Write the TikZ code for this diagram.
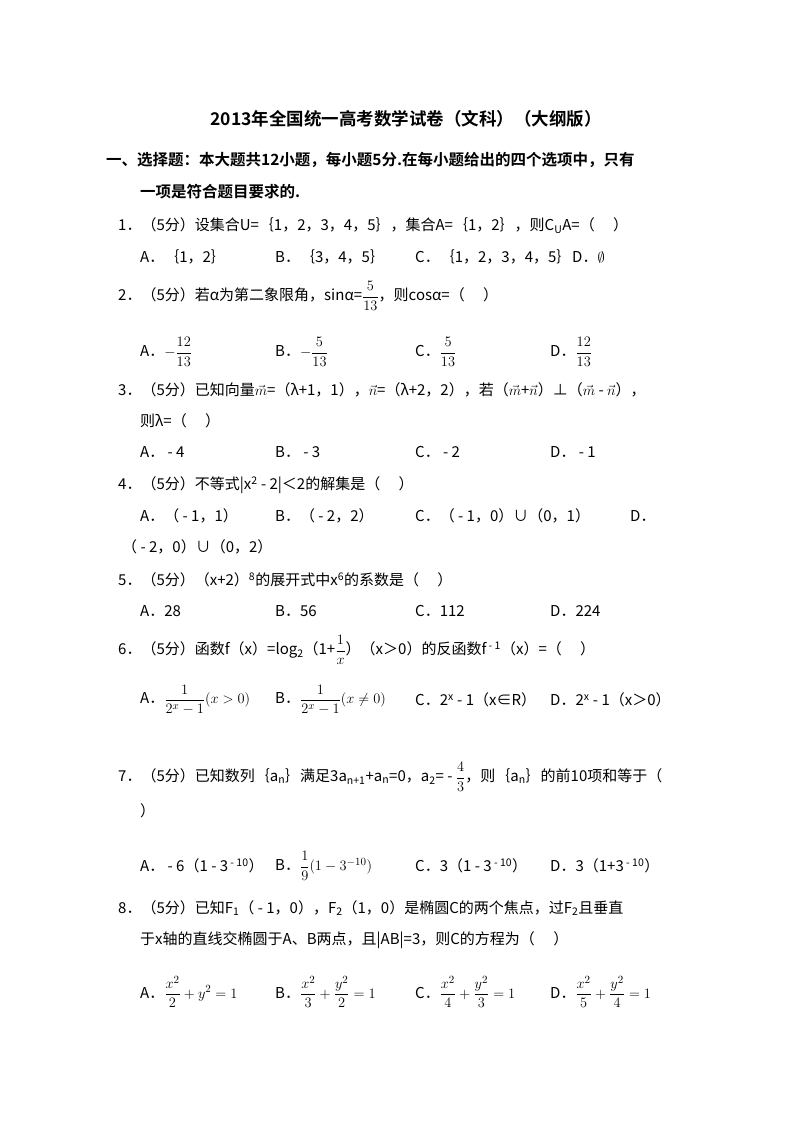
\documentclass[tikz,border=0pt]{standalone}
\usepackage{fontspec}
\usepackage{amsmath}
\setmainfont{Noto Sans CJK SC}[BoldFont={Noto Sans CJK SC Bold}]
\begin{document}
\begin{tikzpicture}[x=1pt,y=-1pt,every node/.style={anchor=west,inner sep=0pt,font=\fontsize{15}{18}\selectfont},
 t/.style={}, h/.style={font=\bfseries\fontsize{15.5}{18}\selectfont}]
\useasboundingbox[fill=white] (0,0) rectangle (800,1132);
\node[anchor=center,font=\bfseries\fontsize{17.5}{20}\selectfont] (title) at (406,119) {2013年全国统一高考数学试卷（文科）（大纲版）};
\node[h] (s1) at (106,160) {一、选择题：本大题共12小题，每小题5分.在每小题给出的四个选项中，只有};
\node[h] (s2) at (140,192) {一项是符合题目要求的.};
\node (q1) at (118,226) {1．（5分）设集合U=｛1，2，3，4，5｝，集合A=｛1，2｝，则C\textsubscript{U}A=（\quad\ ）};
\node (a1) at (140,257) {A．｛1，2｝};
\node (b1) at (275,257) {B．｛3，4，5｝};
\node (c1) at (415,257) {C．｛1，2，3，4，5｝};
\node (d1) at (572,257) {D．$\emptyset$};
\node (q2) at (118,296) {2．（5分）若α为第二象限角，sinα=$\dfrac{5}{13}$，则cosα=（\quad\ ）};
\node (a2) at (140,352) {A．$-\dfrac{12}{13}$};
\node (b2) at (275,352) {B．$-\dfrac{5}{13}$};
\node (c2) at (415,352) {C．$\dfrac{5}{13}$};
\node (d2) at (550,352) {D．$\dfrac{12}{13}$};
\node (q3) at (118,390) {3．（5分）已知向量$\vec{m}$=（λ+1，1），$\vec{n}$=（λ+2，2），若（$\vec{m}$+$\vec{n}$）⊥（$\vec{m}$ - $\vec{n}$），};
\node (q3b) at (140,421) {则λ=（\quad\ ）};
\node (a3) at (140,452) {A． - 4};
\node (b3) at (275,452) {B． - 3};
\node (c3) at (415,452) {C． - 2};
\node (d3) at (550,452) {D． - 1};
\node (q4) at (118,485) {4．（5分）不等式|x\textsuperscript{2} - 2|＜2的解集是（\quad\ ）};
\node (a4) at (140,516) {A．（ - 1，1）};
\node (b4) at (275,516) {B．（ - 2，2）};
\node (c4) at (415,516) {C．（ - 1，0）∪（0，1）};
\node (d4) at (630,516) {D．};
\node (d4b) at (122,547) {（ - 2，0）∪（0，2）};
\node (q5) at (118,580) {5．（5分）（x+2）\textsuperscript{8}的展开式中x\textsuperscript{6}的系数是（\quad\ ）};
\node (a5) at (140,611) {A．28};
\node (b5) at (275,611) {B．56};
\node (c5) at (415,611) {C．112};
\node (d5) at (550,611) {D．224};
\node (q6) at (118,650) {6．（5分）函数f（x）=log\textsubscript{2}（1+$\dfrac{1}{x}$）（x＞0）的反函数f\textsuperscript{ - 1}（x）=（\quad\ ）};
\node (a6) at (140,700) {A．$\dfrac{1}{2^x-1}(x>0)$};
\node (b6) at (275,700) {B．$\dfrac{1}{2^x-1}(x\neq0)$};
\node (c6) at (415,700) {C．2\textsuperscript{x} - 1（x∈R）};
\node (d6) at (550,700) {D．2\textsuperscript{x} - 1（x＞0）};
\node (q7) at (118,777) {7．（5分）已知数列｛a\textsubscript{n}｝满足3a\textsubscript{n+1}+a\textsubscript{n}=0，a\textsubscript{2}= - $\dfrac{4}{3}$，则｛a\textsubscript{n}｝的前10项和等于（};
\node (q7b) at (140,811) {）};
\node (a7) at (140,866) {A． - 6（1 - 3\textsuperscript{ - 10}）};
\node (b7) at (275,866) {B．$\dfrac{1}{9}(1-3^{-10})$};
\node (c7) at (415,866) {C．3（1 - 3\textsuperscript{ - 10}）};
\node (d7) at (550,866) {D．3（1+3\textsuperscript{ - 10}）};
\node (q8) at (118,908) {8．（5分）已知F\textsubscript{1}（ - 1，0），F\textsubscript{2}（1，0）是椭圆C的两个焦点，过F\textsubscript{2}且垂直};
\node (q8b) at (140,940) {于x轴的直线交椭圆于A、B两点，且|AB|=3，则C的方程为（\quad\ ）};
\node (a8) at (140,992) {A．$\dfrac{x^2}{2}+y^2=1$};
\node (b8) at (275,992) {B．$\dfrac{x^2}{3}+\dfrac{y^2}{2}=1$};
\node (c8) at (415,992) {C．$\dfrac{x^2}{4}+\dfrac{y^2}{3}=1$};
\node (d8) at (550,992) {D．$\dfrac{x^2}{5}+\dfrac{y^2}{4}=1$};
\end{tikzpicture}
\end{document}
